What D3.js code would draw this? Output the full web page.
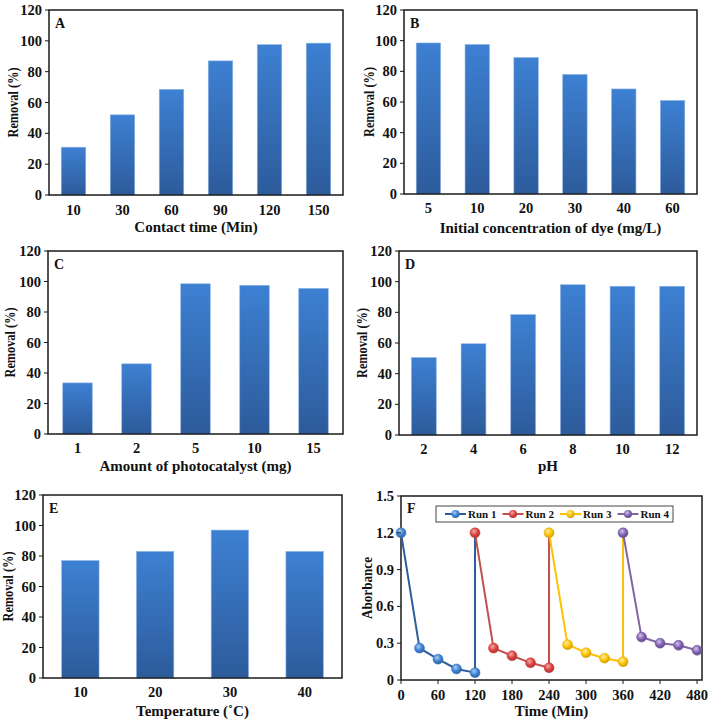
<!DOCTYPE html>
<html>
<head>
<meta charset="utf-8">
<script src="https://cdn.jsdelivr.net/npm/d3@7"></script>
<style>
  html, body { margin: 0; padding: 0; background: #fff; }
  svg text { font-family: "Liberation Serif", "Times New Roman", serif; font-weight: bold; fill: #111; }
</style>
</head>
<body>
<svg id="chart" width="708" height="722"></svg>
<script>
// ---------- DATA ----------
const catsA = ["10", "30", "60", "90", "120", "150"];
const valsA = [31, 52, 68.5, 87, 97.5, 98.5];

const catsB = ["5", "10", "20", "30", "40", "60"];
const valsB = [98.5, 97.5, 89, 78, 68.5, 61];

const catsC = ["1", "2", "5", "10", "15"];
const valsC = [33.5, 46, 98.5, 97.5, 95.5];

const catsD = ["2", "4", "6", "8", "10", "12"];
const valsD = [50.5, 59.5, 78.5, 98, 97, 97];

const catsE = ["10", "20", "30", "40"];
const valsE = [77, 83, 97, 83];

const removalTicks = [0, 20, 40, 60, 80, 100, 120];

const runNames = ["Run 1", "Run 2", "Run 3", "Run 4"];
const run1Time = [0, 30, 60, 90, 120];
const run1Abs  = [1.2, 0.26, 0.17, 0.09, 0.06];
const run2Time = [120, 150, 180, 210, 240];
const run2Abs  = [1.2, 0.26, 0.198, 0.14, 0.10];
const run3Time = [240, 270, 300, 330, 360];
const run3Abs  = [1.2, 0.288, 0.222, 0.178, 0.149];
const run4Time = [360, 390, 420, 450, 480];
const run4Abs  = [1.2, 0.35, 0.30, 0.283, 0.242];

const timeTicks = [0, 60, 120, 180, 240, 300, 360, 420, 480];
const absTicks = [0, 0.3, 0.6, 0.9, 1.2, 1.5];

// ---------- DRAWING ----------
const svg = d3.select("#chart");
const defs = svg.append("defs");
const grad = defs.append("linearGradient").attr("id", "barGrad")
  .attr("x1", 0).attr("y1", 0).attr("x2", 0).attr("y2", 1);
grad.append("stop").attr("offset", "0%").attr("stop-color", "#3d80d2");
grad.append("stop").attr("offset", "100%").attr("stop-color", "#2d5b9b");

function frame(g, L, R, T, B) {
  g.append("rect").attr("x", L).attr("y", T).attr("width", R - L).attr("height", B - T)
    .attr("fill", "none").attr("stroke", "#1a1a1a").attr("stroke-width", 1.5);
}

function yAxis(g, y, ticks, L, fmt, titleX, title, T, B, tlen) {
  ticks.forEach(t => {
    g.append("line").attr("x1", L - 4).attr("x2", L).attr("y1", y(t)).attr("y2", y(t))
      .attr("stroke", "#1a1a1a").attr("stroke-width", 1);
    g.append("text").attr("x", L - 7).attr("y", y(t) + 5).attr("text-anchor", "end")
      .attr("font-size", 14.5).text(fmt(t));
  });
  g.append("text").attr("transform", `translate(${titleX},${(T + B) / 2}) rotate(-90)`)
    .attr("text-anchor", "middle").attr("dy", "0.35em").attr("font-size", 15)
    .attr("textLength", tlen).attr("lengthAdjust", "spacingAndGlyphs").text(title);
}

function barPanel(cfg) {
  const { cats, vals, L, R, T, B, letter, xTitle, yTitleX, tickBase, titleBase } = cfg;
  const g = svg.append("g");
  const x = d3.scaleBand().domain(cats).range([L, R]).paddingInner(0.5).paddingOuter(0.25);
  const y = d3.scaleLinear().domain([0, 120]).range([B, T]);
  g.selectAll("rect.bar").data(cats).enter().append("rect").attr("class", "bar")
    .attr("x", d => x(d)).attr("width", x.bandwidth())
    .attr("y", (d, i) => y(vals[i])).attr("height", (d, i) => B - y(vals[i]))
    .attr("fill", "url(#barGrad)").attr("stroke", "#8db3e6").attr("stroke-width", 0.6);
  frame(g, L, R, T, B);
  yAxis(g, y, removalTicks, L, d => d, yTitleX, "Removal (%)", T, B, 70);
  g.selectAll("text.xt").data(cats).enter().append("text").attr("class", "xt")
    .attr("x", d => x(d) + x.bandwidth() / 2).attr("y", tickBase)
    .attr("text-anchor", "middle").attr("font-size", 14.5).text(d => d);
  g.append("text").attr("x", (L + R) / 2).attr("y", titleBase).attr("text-anchor", "middle")
    .attr("font-size", 15).text(xTitle);
  g.append("text").attr("x", L + 6).attr("y", T + 18).attr("font-size", 14).text(letter);
}

barPanel({ cats: catsA, vals: valsA, L: 49, R: 343, T: 10, B: 195, letter: "A",
  xTitle: "Contact time (Min)", yTitleX: 13, tickBase: 215, titleBase: 232 });
barPanel({ cats: catsB, vals: valsB, L: 404, R: 697, T: 10, B: 194, letter: "B",
  xTitle: "Initial concentration of dye (mg/L)", yTitleX: 369, tickBase: 213, titleBase: 233 });
barPanel({ cats: catsC, vals: valsC, L: 48, R: 343, T: 251, B: 434, letter: "C",
  xTitle: "Amount of photocatalyst (mg)", yTitleX: 10, tickBase: 453, titleBase: 471 });
barPanel({ cats: catsD, vals: valsD, L: 399, R: 697, T: 251, B: 435, letter: "D",
  xTitle: "pH", yTitleX: 362, tickBase: 454, titleBase: 471 });
barPanel({ cats: catsE, vals: valsE, L: 43, R: 342, T: 495, B: 678, letter: "E",
  xTitle: "Temperature (\u02DAC)", yTitleX: 8, tickBase: 697, titleBase: 716 });

// ---------- PANEL F ----------
(function () {
  const L = 401, R = 702, T = 496, B = 680;
  const g = svg.append("g");
  const x = d3.scaleLinear().domain([0, 488]).range([L, R]);
  const y = d3.scaleLinear().domain([0, 1.5]).range([B, T]);
  const runs = [
    { t: run1Time, a: run1Abs, line: "#2b5c9c", fill: "#3b7fd0", hi: "#a9cbf5" },
    { t: run2Time, a: run2Abs, line: "#c0504d", fill: "#d9403c", hi: "#f5aaa8" },
    { t: run3Time, a: run3Abs, line: "#ffc000", fill: "#ffc000", hi: "#fff0a0" },
    { t: run4Time, a: run4Abs, line: "#8064a2", fill: "#7e5fb0", hi: "#d2c2ec" }
  ];
  runs.forEach((r, i) => {
    const rg = defs.append("radialGradient").attr("id", "mk" + i)
      .attr("cx", "40%").attr("cy", "35%").attr("r", "65%");
    rg.append("stop").attr("offset", "0%").attr("stop-color", r.hi);
    rg.append("stop").attr("offset", "60%").attr("stop-color", r.fill);
    rg.append("stop").attr("offset", "100%").attr("stop-color", d3.color(r.fill).darker(0.6));
  });
  frame(g, L, R, T, B);
  const line = d3.line().x(d => x(d[0])).y(d => y(d[1]));
  runs.forEach((r, i) => {
    const pts = r.t.map((t, k) => [t, r.a[k]]);
    if (i < runs.length - 1) pts.push([runs[i + 1].t[0], runs[i + 1].a[0]]);
    g.append("path").attr("d", line(pts)).attr("fill", "none")
      .attr("stroke", r.line).attr("stroke-width", 2);
  });
  runs.forEach((r, i) => {
    r.t.forEach((t, k) => {
      g.append("circle").attr("cx", x(t)).attr("cy", y(r.a[k])).attr("r", 5)
        .attr("fill", `url(#mk${i})`).attr("stroke", d3.color(r.fill).darker(0.4)).attr("stroke-width", 0.5);
    });
  });
  yAxis(g, y, absTicks, L, d => d === 0 ? "0" : d3.format(".1f")(d), 367, "Aborbance", T, B, 62);
  timeTicks.forEach(t => {
    g.append("line").attr("x1", x(t)).attr("x2", x(t)).attr("y1", B).attr("y2", B + 4)
      .attr("stroke", "#1a1a1a").attr("stroke-width", 1);
    g.append("text").attr("x", x(t)).attr("y", 700).attr("text-anchor", "middle")
      .attr("font-size", 14.5).text(t);
  });
  g.append("text").attr("x", (L + R) / 2).attr("y", 716).attr("text-anchor", "middle")
    .attr("font-size", 15).text("Time (Min)");
  g.append("text").attr("x", L + 6).attr("y", T + 17).attr("font-size", 14).text("F");

  // legend
  const lg = g.append("g");
  lg.append("rect").attr("x", 436).attr("y", 506).attr("width", 237).attr("height", 16)
    .attr("fill", "#fff").attr("stroke", "#444").attr("stroke-width", 1);
  runNames.forEach((n, i) => {
    const x0 = 445 + i * 57.5, cy = 514;
    lg.append("line").attr("x1", x0).attr("x2", x0 + 21).attr("y1", cy).attr("y2", cy)
      .attr("stroke", runs[i].line).attr("stroke-width", 2);
    lg.append("circle").attr("cx", x0 + 10.5).attr("cy", cy).attr("r", 4)
      .attr("fill", `url(#mk${i})`);
    lg.append("text").attr("x", x0 + 23).attr("y", cy + 4).attr("font-size", 11).text(n);
  });
})();
</script>
</body>
</html>
